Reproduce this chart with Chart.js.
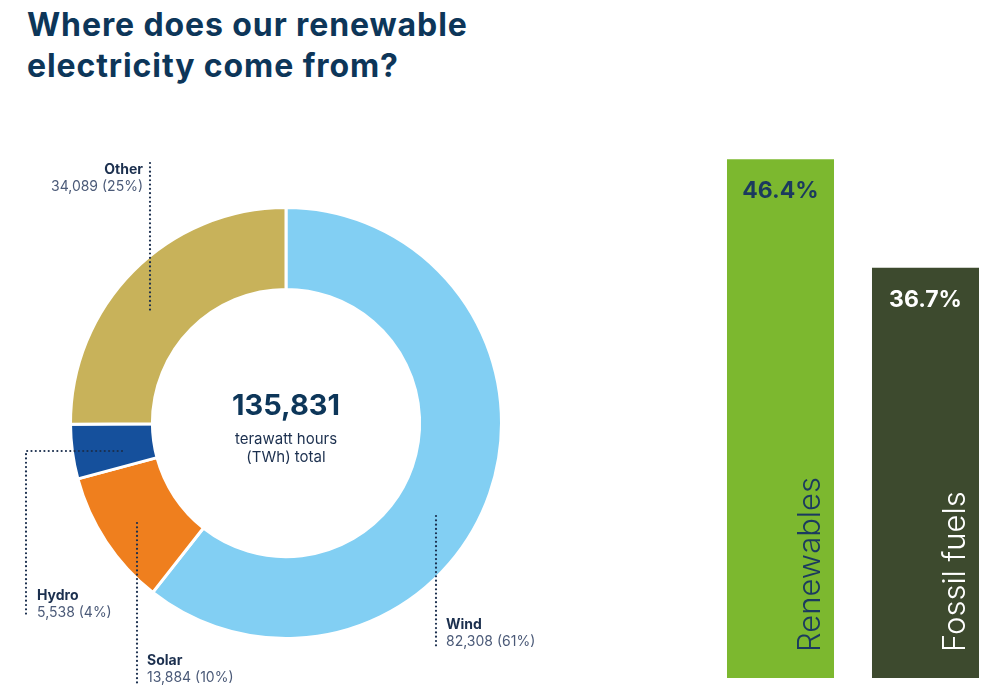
<!DOCTYPE html>
<html>
<head>
<meta charset="utf-8">
<script src="https://cdn.jsdelivr.net/npm/chart.js@4.4.1/dist/chart.umd.min.js"></script>
<style>
  html, body { margin: 0; padding: 0; background: #fff; }
  body { width: 1000px; height: 694px; position: relative; overflow: hidden; font-family: Inter, sans-serif; }
  h1 {
    position: absolute; left: 27px; top: 4px; margin: 0;
    font: 700 32px/41px Inter, sans-serif; color: #0d3659; letter-spacing: 0.9px;
  }
  #donutBox { position: absolute; left: 0; top: 0; width: 600px; height: 694px; }
  #barBox { position: absolute; left: 700px; top: 0; width: 300px; height: 694px; }
</style>
</head>
<body>
<h1>Where does our renewable<br>electricity come from?</h1>
<div id="donutBox"><canvas id="donutChart"></canvas></div>
<div id="barBox"><canvas id="mixChart"></canvas></div>
<script>
// renewable sources (TWh)
const sources = ['Wind', 'Solar', 'Hydro', 'Other'];
const generationTWh = [82308, 13884, 5538, 34089];
const sharePct = [61, 10, 4, 25];
const totalTWh = 135831;
const sourceColors = ['#82cff3', '#ef7f1e', '#15509c', '#c8b25a'];

// share of electricity mix (%)
const mixLabels = ['Renewables', 'Fossil fuels'];
const mixShare = [46.4, 36.7];
const mixColors = ['#7cb82f', '#3d4a2e'];
const mixTextColors = ['#1b3a5e', '#ffffff'];

const navy = '#1b2f4e';
const slate = '#4b5a78';

// callout leader lines + text, offsets from donut centre
const callouts = [
  { line: [[150, 93], [150, 224]], text: [160, 206], align: 'left' },    // Wind
  { line: [[-149, 100], [-149, 260]], text: [-139, 242], align: 'left' }, // Solar
  { line: [[-164, 28], [-260, 28], [-260, 192]], text: [-249, 177], align: 'left' }, // Hydro
  { line: [[-136, -260], [-136, -110]], text: [-143, -249], align: 'right' } // Other
];

const fmt = n => n.toLocaleString('en-US');

const calloutPlugin = {
  id: 'callouts',
  afterDraw(chart) {
    const ctx = chart.ctx;
    const arc = chart.getDatasetMeta(0).data[0];
    const cx = arc.x, cy = arc.y;

    ctx.save();
    // centre total
    ctx.textAlign = 'center';
    ctx.fillStyle = '#0d3659';
    ctx.font = '700 29px Inter';
    ctx.fillText(fmt(totalTWh), cx, cy - 8);
    ctx.fillStyle = navy;
    ctx.font = '400 15px Inter';
    ctx.fillText('terawatt hours', cx, cy + 21);
    ctx.fillText('(TWh) total', cx, cy + 39);

    // leader lines and labels
    callouts.forEach((c, i) => {
      ctx.strokeStyle = navy;
      ctx.lineWidth = 2.2;
      ctx.lineCap = 'round';
      ctx.setLineDash([0.01, 4.3]);
      ctx.beginPath();
      c.line.forEach((p, j) => {
        const px = cx + p[0], py = cy + p[1];
        if (j === 0) ctx.moveTo(px, py); else ctx.lineTo(px, py);
      });
      ctx.stroke();
      ctx.setLineDash([]);

      const tx = cx + c.text[0];
      const ty = cy + c.text[1];
      ctx.textAlign = c.align;
      ctx.fillStyle = navy;
      ctx.font = '700 14px Inter';
      ctx.fillText(sources[i], tx, ty);
      ctx.fillStyle = slate;
      ctx.font = '400 14px Inter';
      ctx.fillText(fmt(generationTWh[i]) + ' (' + sharePct[i] + '%)', tx, ty + 17);
    });
    ctx.restore();
  }
};

new Chart(document.getElementById('donutChart'), {
  type: 'doughnut',
  data: {
    labels: sources,
    datasets: [{
      data: generationTWh,
      backgroundColor: sourceColors,
      borderColor: '#ffffff',
      borderWidth: 3
    }]
  },
  options: {
    responsive: true,
    maintainAspectRatio: false,
    animation: false,
    cutout: '62%',
    layout: { padding: { left: 69, right: 97, top: 206, bottom: 54 } },
    plugins: { legend: { display: false }, tooltip: { enabled: false } }
  },
  plugins: [calloutPlugin]
});

const barLabelPlugin = {
  id: 'barLabels',
  afterDatasetsDraw(chart) {
    const ctx = chart.ctx;
    const bottom = chart.scales.y.getPixelForValue(0);
    ctx.save();
    chart.getDatasetMeta(0).data.forEach((bar, i) => {
      ctx.fillStyle = mixTextColors[i];
      ctx.textAlign = 'center';
      ctx.font = '700 23px Inter';
      ctx.fillText(mixShare[i] + '%', bar.x, bar.y + 39);

      ctx.save();
      ctx.translate(bar.x + 39, bottom - 26);
      ctx.rotate(-Math.PI / 2);
      ctx.textAlign = 'left';
      ctx.font = '300 31px Inter';
      ctx.fillText(mixLabels[i], 0, 0);
      ctx.restore();
    });
    ctx.restore();
  }
};

new Chart(document.getElementById('mixChart'), {
  type: 'bar',
  data: {
    labels: mixLabels,
    datasets: [{
      data: mixShare,
      backgroundColor: mixColors,
      borderWidth: 0,
      barPercentage: 0.738,
      categoryPercentage: 1
    }]
  },
  options: {
    responsive: true,
    maintainAspectRatio: false,
    animation: false,
    layout: { padding: { left: 8, right: 2, top: 119, bottom: 16 } },
    scales: {
      x: { display: false },
      y: { display: false, min: 0, max: 50 }
    },
    plugins: { legend: { display: false }, tooltip: { enabled: false } }
  },
  plugins: [barLabelPlugin]
});
</script>
</body>
</html>
